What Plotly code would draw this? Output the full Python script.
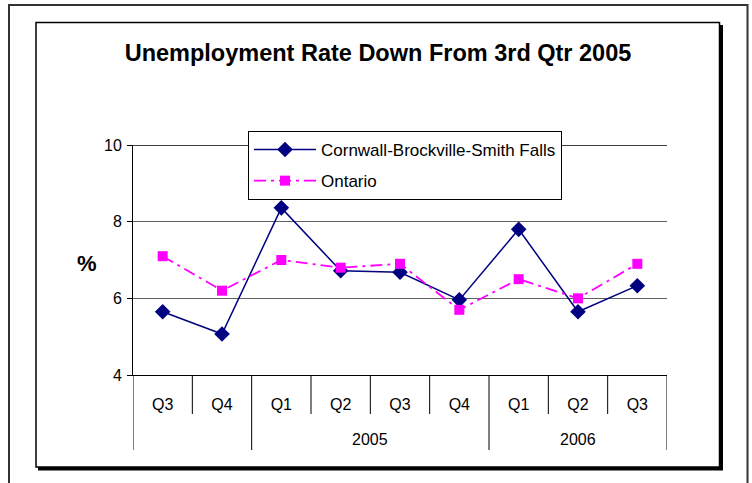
import plotly.graph_objects as go

# ---- data ----
quarters = ["Q3", "Q4", "Q1", "Q2", "Q3", "Q4", "Q1", "Q2", "Q3"]
years = ["", "", "2005", "2005", "2005", "2005", "2006", "2006", "2006"]
cornwall = [5.65, 5.07, 8.36, 6.72, 6.68, 5.96, 7.80, 5.65, 6.33]
ontario = [7.1, 6.2, 7.0, 6.8, 6.9, 5.7, 6.5, 6.0, 6.9]
series_names = ["Cornwall-Brockville-Smith Falls", "Ontario"]
title_text = "Unemployment Rate Down From 3rd Qtr 2005"
y_ticks = [4, 6, 8, 10]

FONT = "Liberation Sans, Arial, sans-serif"
W, H = 752, 483
L, R, T, B = 133, 85, 145, 108
PW, PH = W - L - R, H - T - B


def px(x):
    return (x - L) / PW


def py(y):
    return (H - B - y) / PH


idx = list(range(len(quarters)))

fig = go.Figure()
fig.add_trace(go.Scatter(
    x=idx, y=cornwall, name=series_names[0], mode="lines+markers",
    line=dict(color="#000080", width=1.5),
    marker=dict(symbol="diamond", size=12, color="#000080"),
    legendgroup="a",
))
fig.add_trace(go.Scatter(
    x=idx, y=ontario, name=series_names[1], mode="lines+markers",
    line=dict(color="#FF00FF", width=1.8, dash="12px,5px,3px,5px"),
    marker=dict(symbol="square", size=10, color="#FF00FF"),
    legendgroup="b",
))

shapes = []
# outer frame
shapes.append(dict(type="rect", xref="paper", yref="paper",
                   x0=px(9), x1=px(747.5), y0=py(495), y1=py(5),
                   line=dict(color="#333333", width=2), layer="below"))
# shadow + inner frame
shapes.append(dict(type="rect", xref="paper", yref="paper",
                   x0=px(38), x1=px(723), y0=py(470.5), y1=py(25),
                   fillcolor="black", line=dict(width=0), layer="below"))
shapes.append(dict(type="rect", xref="paper", yref="paper",
                   x0=px(36), x1=px(719.5), y0=py(467), y1=py(22.5),
                   fillcolor="white", line=dict(color="black", width=1.5), layer="below"))
# top plot line (at 10)
shapes.append(dict(type="line", xref="paper", yref="y",
                   x0=0, x1=1, y0=10, y1=10,
                   line=dict(color="#404040", width=2), layer="below"))
# category dividers
n = len(quarters)
for k in range(n + 1):
    b = k - 0.5
    long_div = (k == 0 or k == n or years[k] != years[k - 1])
    shapes.append(dict(type="line", xref="x", yref="paper",
                       x0=b, x1=b, y0=0, y1=py(450 if long_div else 414),
                       line=dict(color="black", width=1)))

annotations = []
# year group labels
groups = {}
for i, yv in enumerate(years):
    if yv:
        groups.setdefault(yv, []).append(i)
for yv, members in groups.items():
    annotations.append(dict(x=(members[0] + members[-1]) / 2, y=py(439),
                            xref="x", yref="paper", text=yv, showarrow=False,
                            font=dict(family=FONT, size=16, color="black"),
                            yanchor="middle"))
annotations.append(dict(x=px(87), y=py(263), xref="paper", yref="paper",
                        text="<b>%</b>", showarrow=False,
                        font=dict(family=FONT, size=22, color="black"),
                        xanchor="center", yanchor="middle"))

fig.update_layout(
    width=W, height=H,
    margin=dict(l=L, r=R, t=T, b=B),
    paper_bgcolor="white",
    plot_bgcolor="rgba(0,0,0,0)",
    font=dict(family=FONT, size=14, color="black"),
    title=dict(text="<b>" + title_text + "</b>", x=378 / W, xanchor="center",
               y=1 - 53 / H, yanchor="middle",
               font=dict(family=FONT, size=23.5, color="black")),
    showlegend=True,
    legend=dict(x=px(248), y=py(131), xanchor="left", yanchor="top",
                bgcolor="white", bordercolor="black", borderwidth=1,
                font=dict(family=FONT, size=17, color="black"),
                tracegroupgap=6, itemwidth=62),
    xaxis=dict(range=[-0.5, n - 0.5], tickmode="array", tickvals=idx,
               ticktext=quarters, ticks="", showgrid=False, zeroline=False,
               showline=True, linecolor="black", linewidth=1,
               ticklabelstandoff=15,
               tickfont=dict(family=FONT, size=16, color="black")),
    yaxis=dict(range=[4, 10], tickmode="array", tickvals=y_ticks,
               ticks="outside", ticklen=5, tickcolor="black",
               showgrid=True, gridcolor="#606060", gridwidth=1, zeroline=False,
               showline=True, linecolor="black", linewidth=1,
               ticklabelstandoff=2,
               tickfont=dict(family=FONT, size=16, color="black")),
    shapes=shapes,
    annotations=annotations,
)

fig.write_html("out.html")
